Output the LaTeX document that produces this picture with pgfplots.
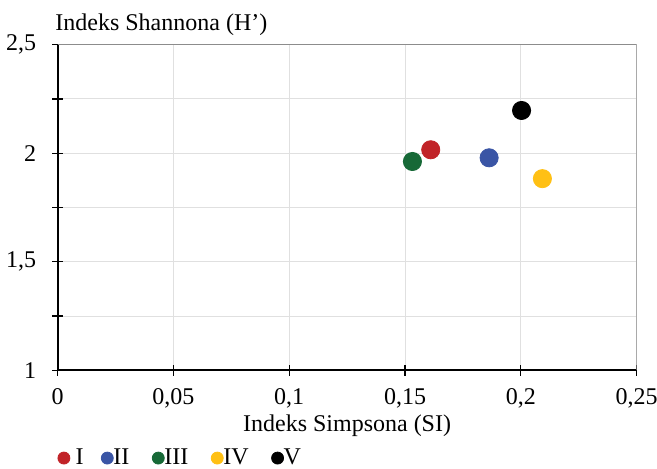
\documentclass[border=0pt]{standalone}
\usepackage{fontspec}
\setmainfont{Liberation Serif}
\usepackage{pgfplots}
\pgfplotsset{compat=1.18}

\definecolor{cI}{RGB}{193,35,40}
\definecolor{cII}{RGB}{58,85,165}
\definecolor{cIII}{RGB}{23,105,55}
\definecolor{cIV}{RGB}{255,192,20}
\definecolor{cV}{RGB}{0,0,0}
\definecolor{gridc}{RGB}{224,224,224}
\definecolor{framec}{RGB}{140,140,140}

\newcommand{\lblfont}{\fontsize{12}{14}\selectfont}

\begin{document}
\begin{tikzpicture}
\begin{axis}[
  at={(0,0)}, anchor=south west,
  scale only axis, width=289.6pt, height=162.8pt,
  xmin=0, xmax=0.25, ymin=1, ymax=2.5,
  axis lines=left,
  axis line style={-, line width=1pt, black},
  scaled ticks=false,
  xtick={0,0.05,0.1,0.15,0.2,0.25},
  xticklabels={0,{0,05},{0,1},{0,15},{0,2},{0,25}},
  ytick={1,1.5,2,2.5},
  yticklabels={1,{1,5},2,{2,5}},
  minor ytick={1.25,1.75,2.25},
  grid=both,
  major grid style={gridc, line width=0.5pt},
  minor grid style={gridc, line width=0.5pt},
  tick align=center,
  major tick length=5.5pt, minor tick length=5.5pt,
  tick style={black, line width=0.6pt},
  tick label style={font=\lblfont},
  xticklabel style={yshift=-2.7pt},
  yticklabel style={xshift=-4.4pt},
  label style={font=\lblfont},
  xlabel={Indeks Simpsona (SI)},
  xlabel style={at={(axis description cs:0.5,0)}, anchor=base, yshift=-30.35pt, inner sep=0pt},
  ylabel={Indeks Shannona (H’)},
  ylabel style={rotate=-90, at={(axis description cs:0,1)}, anchor=base west, yshift=7.35pt, xshift=-1.25pt, inner sep=0pt},
  legend columns=-1,
  legend style={font=\lblfont, draw=none, fill=none,
    at={(axis description cs:0,0)}, anchor=north west, yshift=-37pt,
    inner sep=0pt,
    nodes={inner xsep=0pt},
    /tikz/every even column/.append style={column sep=11.5pt}},
  legend image code/.code={\draw[#1, mark size=3pt] plot coordinates {(3pt,0pt)};},
]
% plot frame: top and right edges in grey
\draw[framec, line width=0.75pt] (rel axis cs:0,1) -- (rel axis cs:1,1) -- (rel axis cs:1,0);

\addplot[only marks, mark=*, mark size=4.55pt, color=cI, fill=cI] coordinates {(0.1611,2.016)};
\addlegendentry{\rlap{\hspace{2.8pt}I}\kern4.2pt}
\addplot[only marks, mark=*, mark size=4.55pt, color=cII, fill=cII] coordinates {(0.1863,1.979)};
\addlegendentry{II}
\addplot[only marks, mark=*, mark size=4.55pt, color=cIII, fill=cIII] coordinates {(0.1532,1.962)};
\addlegendentry{III}
\addplot[only marks, mark=*, mark size=4.55pt, color=cIV, fill=cIV] coordinates {(0.2093,1.883)};
\addlegendentry{IV}
\addplot[only marks, mark=*, mark size=4.55pt, color=cV, fill=cV] coordinates {(0.2003,2.197)};
\addlegendentry{V}
\end{axis}
\pgfresetboundingbox
\path[use as bounding box] (-28.75pt,-48.85pt) rectangle (299.75pt,185.15pt);
\end{tikzpicture}
\end{document}
